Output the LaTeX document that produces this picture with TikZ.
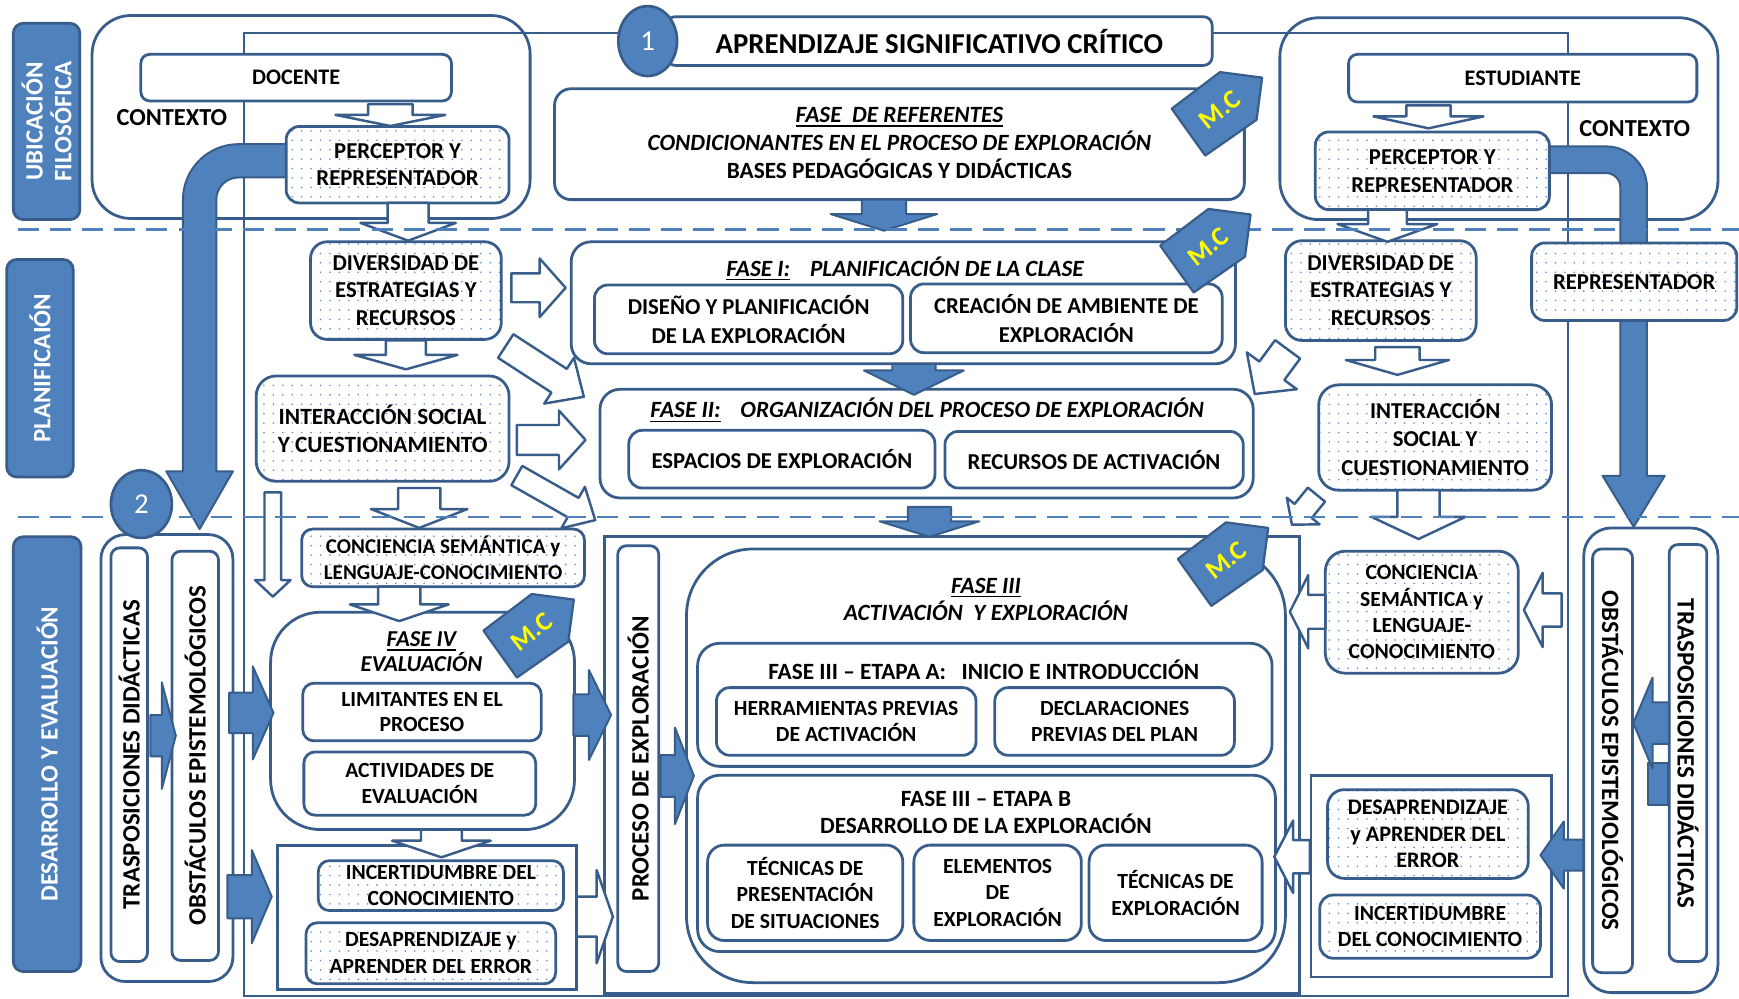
\documentclass[tikz,border=0pt]{standalone}
\usepackage{fontspec}
\setmainfont{Carlito}
\usetikzlibrary{shapes.geometric,patterns.meta}

\definecolor{bord}{HTML}{385D8A}
\definecolor{blu}{HTML}{4F81BD}
\definecolor{dotc}{HTML}{5F8CC8}
\definecolor{tagy}{HTML}{FFFF00}

% underline with a thicker rule
\newsavebox{\UlBox}
\newcommand{\Ul}[1]{\sbox{\UlBox}{#1}\leavevmode\rlap{\vrule width\wd\UlBox height -2.4pt depth 3.9pt}\usebox{\UlBox}}

\tikzset{
  base/.style={draw=bord, line width=2.5pt, rounded corners=10pt, inner sep=0pt,
    align=center, font=\bfseries\fontsize{20}{24}\selectfont},
  box/.style={base, fill=white},
  sq/.style={box, sharp corners},
  frm/.style={draw=bord, line width=2.2pt, inner sep=0pt},
  dotbox/.style={base, preaction={fill=white},
    pattern={Dots[distance=8.5pt, radius=0.8pt]}, pattern color=dotc},
  lbl/.style={base, fill=blu, rounded corners=9pt},
  txt/.style={inner sep=0pt, align=center, font=\bfseries\fontsize{20}{24}\selectfont},
  hdr/.style={txt, font=\bfseries\itshape\fontsize{21}{25}\selectfont},
  rot/.style={txt, font=\bfseries\fontsize{22.5}{26}\selectfont},
  harrow/.style={draw=bord, line width=2.2pt, fill=white, line join=round},
  farrow/.style={draw=bord, line width=1.8pt, fill=blu, line join=round},
  dashln/.style={draw=blu, line width=2pt, dash pattern=on 19pt off 10pt},
  tagst/.style={draw=bord, line width=2pt, fill=blu, line join=round},
  mctext/.style={text=tagy, inner sep=0pt, font=\bfseries\fontsize{24}{24}\selectfont},
  num/.style={draw=bord, line width=2.4pt, fill=blu, ellipse, inner sep=0pt,
    text=white, font=\fontsize{26}{26}\selectfont}
}

% box given by its corners: [style]{name}{x1}{y1}{x2}{y2}{text}
\newcommand{\Bx}[7][]{\node[#1, minimum width={(#5)-(#3)}, minimum height={(#6)-(#4)}]
  (#2) at ({((#3)+(#5))/2},{((#4)+(#6))/2}) {#7};}
% block arrow: [style]{tail x}{tail y}{angle}{length}{head length}{shaft half}{head half}
\newcommand{\Blk}[8][]{\path[#1, shift={(#2,#3)}, rotate=#4]
  (0,-#7) -- ({#5-#6},-#7) -- ({#5-#6},-#8) -- (#5,0) -- ({#5-#6},#8) -- ({#5-#6},#7) -- (0,#7) -- cycle;}
% M.C tag: {name}{cx}{cy}
\newcommand{\McTag}[3]{\path[tagst, shift={(#2,#3)}]
  (-43.5,-1) -- (0,-34) -- (38,-29) -- (33,9) -- (-13.3,41.3) -- cycle;
  \node[mctext, rotate=38] (#1) at (#2,#3) {M.C};}

\begin{document}
\begin{tikzpicture}[x=1pt, y=-1pt]
\useasboundingbox (0,0) rectangle (1568,900);
\fill[white] (0,0) rectangle (1568,900);

% stage labels
\Bx[lbl]{lab1}{12}{21}{72}{198}{}
\node[rot, text=white, rotate=90] (lab1t) at (lab1) {UBICACIÓN\\FILOSÓFICA};
\Bx[lbl]{lab2}{6}{234}{66}{430}{}
\node[rot, text=white, rotate=90] (lab2t) at (lab2) {PLANIFICAIÓN};
\Bx[lbl]{lab3}{12}{484}{73}{876}{}
\node[rot, text=white, rotate=90] (lab3t) at (lab3) {DESARROLLO Y EVALUACIÓN};

% context boxes
\Bx[box, rounded corners=35pt]{ctxL}{83}{14}{478}{197}{}
\Bx[box, rounded corners=35pt]{ctxR}{1154}{16}{1549}{198}{}
\node[txt, font=\bfseries\fontsize{22}{26}\selectfont] (ctxLt) at (155,106) {CONTEXTO};
\node[txt, font=\bfseries\fontsize{22}{26}\selectfont] (ctxRt) at (1474,116) {CONTEXTO};

% outer frame
\Bx[frm]{frame}{220}{30}{1414}{898}{}

% bent arrows from the perceptor boxes
\path[farrow] (265,130) -- (215,130) .. controls (187.4,130) and (165,152.4) .. (165,180)
  -- (165,425) -- (150,425) -- (180,477) -- (210,425) -- (195,425) -- (195,180)
  .. controls (195,169) and (204,160) .. (215,160) -- (265,160) -- cycle;
\path[farrow] (1390,132) -- (1448,132) .. controls (1468.4,132) and (1485,148.6) .. (1485,169)
  -- (1485,429) -- (1501,429) -- (1473,475) -- (1445,429) -- (1461,429) -- (1461,169)
  .. controls (1461,161.8) and (1455.2,156) .. (1448,156) -- (1390,156) -- cycle;

% title
\Bx[box, rounded corners=8pt, font=\bfseries\fontsize{26}{30}\selectfont]{title}{601}{15}{1093}{59}{APRENDIZAJE SIGNIFICATIVO CRÍTICO}
\node[num, minimum width=53, minimum height=63] (n1) at (584,37) {1};

% phase of references
\Bx[box, rounded corners=15pt]{ref}{500}{80}{1122}{180}{}
\node[txt, font=\bfseries\fontsize{21}{25.5}\selectfont] (reft) at (811,129)
  {\textit{\Ul{FASE\ \ DE REFERENTES}}\\\textit{CONDICIONANTES EN EL PROCESO DE EXPLORACIÓN}\\BASES PEDAGÓGICAS Y DIDÁCTICAS};

% teacher side
\Bx[box, rounded corners=8pt]{doc}{127}{49}{407}{91}{DOCENTE}
\Bx[dotbox, rounded corners=12pt, font=\bfseries\fontsize{20.5}{24}\selectfont]{perL}{258}{114}{459}{183}{PERCEPTOR Y\\REPRESENTADOR}
\Bx[dotbox, rounded corners=15pt, font=\bfseries\fontsize{20.5}{25}\selectfont]{divL}{280}{218}{452}{306}{DIVERSIDAD DE\\ESTRATEGIAS Y\\RECURSOS}
\Bx[dotbox, rounded corners=18pt, font=\bfseries\fontsize{21}{25}\selectfont]{intL}{231}{339}{459}{434}{INTERACCIÓN SOCIAL\\Y CUESTIONAMIENTO}
\Bx[dotbox, font=\bfseries\fontsize{19}{24}\selectfont]{conL}{272}{477}{527}{529}{CONCIENCIA SEMÁNTICA y\\LENGUAJE-CONOCIMIENTO}

% student side
\Bx[box, rounded corners=8pt]{est}{1216}{49}{1530}{92}{ESTUDIANTE}
\Bx[dotbox, rounded corners=12pt, font=\bfseries\fontsize{20.5}{25}\selectfont]{perR}{1186}{119}{1397}{189}{PERCEPTOR Y\\REPRESENTADOR}
\Bx[dotbox, rounded corners=15pt, font=\bfseries\fontsize{20.5}{25}\selectfont]{divR}{1159}{217}{1331}{307}{DIVERSIDAD DE\\ESTRATEGIAS Y\\RECURSOS}
\Bx[dotbox, rounded corners=12pt, font=\bfseries\fontsize{20.5}{24}\selectfont]{rep}{1381}{219}{1566}{289}{REPRESENTADOR}
\Bx[dotbox, rounded corners=18pt, font=\bfseries\fontsize{20.5}{25.5}\selectfont]{intR}{1189}{347}{1399}{442}{INTERACCIÓN\\SOCIAL Y\\CUESTIONAMIENTO}
\Bx[dotbox, rounded corners=18pt, font=\bfseries\fontsize{19.5}{23.7}\selectfont]{conR}{1195}{497}{1369}{607}{CONCIENCIA\\SEMÁNTICA y\\LENGUAJE-\\CONOCIMIENTO}

% phase I
\Bx[box, rounded corners=18pt]{f1}{515}{218}{1114}{328}{}
\node[hdr] (f1t) at (816,242) {\Ul{FASE I:}\hspace{18pt}PLANIFICACIÓN DE LA CLASE};
\Bx[box, rounded corners=12pt, font=\bfseries\fontsize{20.5}{26}\selectfont]{f1a}{536}{257}{814}{319}{DISEÑO Y PLANIFICACIÓN\\DE LA EXPLORACIÓN}
\Bx[box, rounded corners=12pt, font=\bfseries\fontsize{20.5}{26}\selectfont]{f1b}{821}{256}{1102}{318}{CREACIÓN DE AMBIENTE DE\\EXPLORACIÓN}

% phase II
\Bx[box, rounded corners=18pt]{f2}{541}{351}{1130}{449}{}
\node[hdr] (f2t) at (836,370) {\Ul{FASE II:}\hspace{18pt}ORGANIZACIÓN DEL PROCESO DE EXPLORACIÓN};
\Bx[box, rounded corners=12pt, font=\bfseries\fontsize{20.5}{24}\selectfont]{f2a}{567}{388}{843}{440}{ESPACIOS DE EXPLORACIÓN}
\Bx[box, rounded corners=12pt, font=\bfseries\fontsize{20.5}{24}\selectfont]{f2b}{852}{389}{1121}{440}{RECURSOS DE ACTIVACIÓN}

% left column of development
\Bx[box, rounded corners=22pt]{contL}{91}{482}{210}{885}{}
\Bx[box, rounded corners=8pt]{traL}{100}{494}{133}{867}{}
\Bx[box, rounded corners=8pt]{obsL}{155}{497}{197}{866}{}
\node[rot, rotate=90] (traLt) at (traL) {TRASPOSICIONES DIDÁCTICAS};
\node[rot, rotate=90] (obsLt) at (obsL) {OBSTÁCULOS EPISTEMOLÓGICOS};
\node[num, minimum width=55, minimum height=61] (n2) at (127.5,454.5) {2};

% right column of development
\Bx[box, rounded corners=25pt]{contR}{1428}{476}{1549}{895}{}
\Bx[box, rounded corners=8pt]{obsR}{1436}{495}{1472}{877}{}
\Bx[box, rounded corners=8pt]{traR}{1505}{491}{1539}{867}{}
\node[rot, rotate=-90] (obsRt) at (1454,686) {OBSTÁCULOS EPISTEMOLÓGICOS};
\node[rot, rotate=-90] (traRt) at (1522,679.5) {TRASPOSICIONES DIDÁCTICAS};

% phase IV
\Bx[box, rounded corners=45pt]{f4}{244}{552}{518}{748}{}
\node[hdr, font=\bfseries\itshape\fontsize{20.5}{23}\selectfont] (f4t) at (380,587.5) {\Ul{FASE IV}\\EVALUACIÓN};
\Bx[box, font=\bfseries\fontsize{19.5}{23}\selectfont]{f4a}{273}{616}{488}{668}{LIMITANTES EN EL\\PROCESO}
\Bx[box, font=\bfseries\fontsize{19.5}{23}\selectfont]{f4b}{274}{678}{483}{735}{ACTIVIDADES DE\\EVALUACIÓN}
\Bx[sq]{sqL}{250}{762}{520}{892}{}
\Bx[dotbox, font=\bfseries\fontsize{19.5}{23}\selectfont]{incL}{287}{776}{508}{821}{INCERTIDUMBRE DEL\\CONOCIMIENTO}
\Bx[dotbox, font=\bfseries\fontsize{19.5}{24}\selectfont]{desL}{276}{832}{501}{887}{DESAPRENDIZAJE y\\APRENDER DEL ERROR}

% phase III
\Bx[sq]{f3frame}{545}{484}{1172}{896}{}
\Bx[box, rounded corners=8pt]{proc}{557}{492}{594}{876}{}
\node[rot, rotate=90] (proct) at (proc) {PROCESO DE EXPLORACIÓN};
\Bx[box, rounded corners=60pt]{f3}{619}{495}{1159}{886}{}
\node[hdr, font=\bfseries\itshape\fontsize{21}{25}\selectfont] (f3t) at (889,540.5) {\Ul{FASE III}\\ACTIVACIÓN\ \ Y EXPLORACIÓN};
\Bx[box, rounded corners=20pt]{f3a}{629}{580}{1147}{691}{}
\node[txt, font=\bfseries\fontsize{21}{25}\selectfont] (f3at) at (887,604) {FASE III – ETAPA A:\hspace{14pt}INICIO E INTRODUCCIÓN};
\Bx[box, rounded corners=12pt, font=\bfseries\fontsize{19.5}{24}\selectfont]{f3a1}{646}{620}{880}{681}{HERRAMIENTAS PREVIAS\\DE ACTIVACIÓN}
\Bx[box, rounded corners=12pt, font=\bfseries\fontsize{19.5}{24}\selectfont]{f3a2}{897}{620}{1113}{681}{DECLARACIONES\\PREVIAS DEL PLAN}
\Bx[box, rounded corners=20pt]{f3b}{629}{699}{1150}{858}{}
\node[txt, font=\bfseries\fontsize{21}{25}\selectfont] (f3bt) at (889,732.5) {FASE III – ETAPA B\\DESARROLLO DE LA EXPLORACIÓN};
\Bx[box, rounded corners=15pt, font=\bfseries\fontsize{19.5}{24}\selectfont]{f3b1}{638}{762}{814}{848}{TÉCNICAS DE\\PRESENTACIÓN\\DE SITUACIONES}
\Bx[box, rounded corners=15pt, font=\bfseries\fontsize{19.5}{24}\selectfont]{f3b2}{824}{762}{975}{848}{ELEMENTOS\\DE\\EXPLORACIÓN}
\Bx[box, rounded corners=15pt, font=\bfseries\fontsize{19.5}{24}\selectfont]{f3b3}{982}{762}{1138}{848}{TÉCNICAS DE\\EXPLORACIÓN}

% right lower group
\Bx[sq]{sqR}{1182}{699}{1399}{881}{}
\Bx[dotbox, rounded corners=15pt, font=\bfseries\fontsize{20}{24}\selectfont]{desR}{1197}{712}{1378}{792}{DESAPRENDIZAJE\\y APRENDER DEL\\ERROR}
\Bx[dotbox, rounded corners=12pt, font=\bfseries\fontsize{19.5}{23}\selectfont]{incR}{1190}{807}{1389}{864}{INCERTIDUMBRE\\DEL CONOCIMIENTO}

% hollow block arrows
\Blk[harrow]{352}{94}{-90}{19.6}{10}{20}{49.5}
\Blk[harrow]{368}{183}{-90}{34}{16}{18.5}{43}
\Blk[harrow]{366}{307}{-90}{26}{13}{18}{46.5}
\Blk[harrow]{378}{440}{-90}{36}{17}{19}{43.5}
\Blk[harrow]{360}{529}{-90}{31}{15}{19}{44.5}
\Blk[harrow]{398}{748}{-90}{25}{15}{18.4}{44.5}
\Blk[harrow]{246}{444}{-90}{94}{15}{7.5}{16}
\Blk[harrow]{1288}{95}{-90}{20.7}{10.7}{20}{49.6}
\Blk[harrow]{1251}{189}{-90}{29}{16}{17.5}{45}
\Blk[harrow]{1260}{313}{-90}{25}{13.4}{20}{46.5}
\Blk[harrow]{1279}{442}{-90}{44}{20}{19}{42.5}
\Blk[harrow]{1408}{550}{180}{34}{17}{15}{33.5}
\Blk[harrow]{1195}{551.6}{180}{32}{16.6}{15.3}{33}
\Blk[harrow]{1181}{772.5}{180}{32}{17}{15}{32.7}
\Blk[harrow]{461}{259.5}{0}{49}{23.4}{13}{26.4}
\Blk[harrow]{456}{312}{-33}{84}{26.6}{12.7}{24.6}
\Blk[harrow]{466}{396.7}{0}{62}{24}{13.5}{26.5}
\Blk[harrow]{466}{428.8}{-29.6}{81.3}{22.9}{10}{21.5}
\Blk[harrow]{1161}{315}{233.6}{50}{26}{14}{28}
\Blk[harrow]{1187}{446}{230.8}{35}{16}{10}{19}
\Blk[harrow]{520}{826.5}{0}{32.6}{14.6}{18}{42}

% filled block arrows
\Blk[farrow]{797}{180}{-90}{28}{15}{20}{48}
\Blk[farrow]{824}{328}{-90}{28}{22}{19.5}{45}
\Blk[farrow]{838}{457}{-90}{27}{14}{19.5}{45}
\Blk[farrow]{206.6}{642.8}{0}{40}{18.7}{18.2}{42}
\Blk[farrow]{205}{808.5}{0}{40}{18}{19.5}{42}
\Blk[farrow]{517}{644.7}{0}{34}{20}{18.7}{40.5}
\Blk[farrow]{595.6}{699.6}{0}{30}{17}{18.8}{43.5}
\Blk[farrow]{135.5}{663.3}{0}{23}{12.6}{18.6}{48}
\path[farrow] (1486,688) rectangle (1504,726);
\Blk[farrow]{1505}{652}{180}{32.3}{17.3}{18.7}{41}
\Blk[farrow]{1427.6}{771}{180}{38.6}{21}{14}{30.3}

% stage dividers
\coordinate (dA1) at (16,207);
\coordinate (dA2) at (1568,207);
\coordinate (dB1) at (16,466);
\coordinate (dB2) at (1568,466);
\draw[dashln] (dA1) -- (dA2);
\draw[dashln] (dB1) -- (dB2);

% M.C tags
\McTag{tag1}{1100}{99}
\McTag{tag2}{1089.6}{222.4}
\McTag{tag3}{479.4}{569.6}
\McTag{tag4}{1105.5}{505}
\end{tikzpicture}
\end{document}
